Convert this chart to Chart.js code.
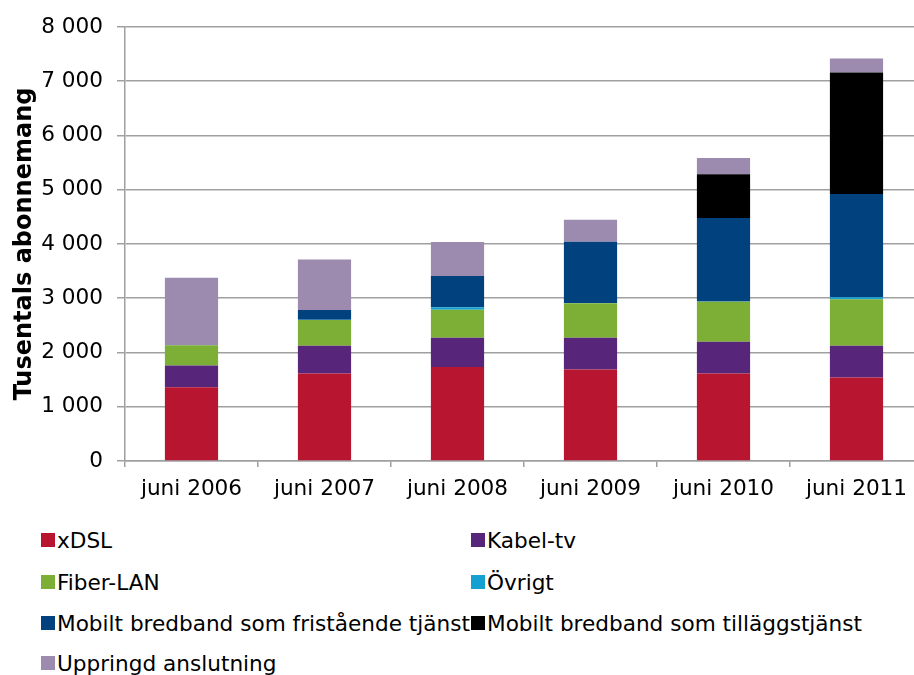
<!DOCTYPE html>
<html>
<head>
<meta charset="utf-8">
<script src="https://cdn.jsdelivr.net/npm/chart.js@4"></script>
<style>
  html, body { margin: 0; padding: 0; background: #fff; overflow: hidden; }
  #wrap { position: relative; width: 930px; height: 675px; }
  #legend .item { position: absolute; display: flex; align-items: center; height: 26px;
    font: 21.6px "DejaVu Sans", sans-serif; color: #000; white-space: nowrap; }
  #legend .box { width: 14px; height: 14px; margin-right: 2px; }
</style>
</head>
<body>
<div id="wrap">
  <canvas id="chart" width="930" height="510"></canvas>
  <div id="legend"></div>
</div>
<script>
const categories = ['juni 2006', 'juni 2007', 'juni 2008', 'juni 2009', 'juni 2010', 'juni 2011'];

const xdsl      = [1361, 1614, 1731, 1688, 1614, 1540];
const kabelTv   = [400, 510, 541, 584, 584, 584];
const fiberLan  = [373, 476, 518, 635, 739, 857];
const ovrigt    = [5, 5, 45, 5, 5, 37];
const mobilFri  = [0, 179, 577, 1128, 1535, 1902];
const mobilTill = [0, 0, 0, 0, 806, 2241];
const uppringd  = [1240, 929, 623, 406, 302, 259];

const seriesNames = ['xDSL', 'Kabel-tv', 'Fiber-LAN', 'Övrigt',
  'Mobilt bredband som fristående tjänst', 'Mobilt bredband som tilläggstjänst', 'Uppringd anslutning'];
const seriesData = [xdsl, kabelTv, fiberLan, ovrigt, mobilFri, mobilTill, uppringd];
const seriesColors = ['#b81531', '#57267a', '#7daf37', '#14a1d2', '#00417e', '#000000', '#9c8aaf'];

const yTicks = [0, 1000, 2000, 3000, 4000, 5000, 6000, 7000, 8000];

const gridColor = '#a0a0a0';
const font = '"DejaVu Sans", sans-serif';

const ctx = document.getElementById('chart').getContext('2d');
new Chart(ctx, {
  type: 'bar',
  data: {
    labels: categories,
    datasets: seriesNames.map((name, i) => ({
      label: name,
      data: seriesData[i],
      backgroundColor: seriesColors[i],
      borderWidth: 0,
      categoryPercentage: 1,
      barPercentage: 0.4
    }))
  },
  options: {
    responsive: false,
    animation: false,
    devicePixelRatio: 1,
    events: [],
    layout: { padding: { left: 0, right: 7, top: 26, bottom: 0 } },
    plugins: { legend: { display: false }, tooltip: { enabled: false } },
    scales: {
      x: {
        stacked: true,
        grid: { display: true, drawOnChartArea: false, drawTicks: true, tickLength: 6, color: gridColor, lineWidth: 1.5, offset: true },
        border: { display: true, color: gridColor, width: 1.5 },
        ticks: { color: '#000', font: { family: font, size: 21.6 }, padding: 9, maxRotation: 0 },
        afterFit: s => { s.height = 49; }
      },
      y: {
        stacked: true,
        min: 0,
        max: 8000,
        afterBuildTicks: s => { s.ticks = yTicks.map(v => ({ value: v })); },
        grid: { color: gridColor, lineWidth: 1.5, tickLength: 8 },
        border: { display: true, color: gridColor, width: 1.5 },
        ticks: {
          color: '#000',
          font: { family: font, size: 21.6 },
          padding: 14,
          callback: v => String(v).replace(/\B(?=(\d{3})+(?!\d))/g, ' ')
        },
        title: {
          display: true,
          text: 'Tusentals abonnemang',
          color: '#000',
          font: { family: font, size: 24, weight: 'bold' },
          padding: { top: 10, bottom: 0 }
        },
        afterFit: s => { s.width = 125; }
      }
    }
  }
});

// legend in two columns, same order as the datasets
const legendCols = [41, 471];
const legendRows = [540, 582, 623, 663];
const legend = document.getElementById('legend');
seriesNames.forEach((name, i) => {
  const item = document.createElement('div');
  item.className = 'item';
  item.style.left = legendCols[i % 2] + 'px';
  item.style.top = (legendRows[Math.floor(i / 2)] - 13) + 'px';
  const box = document.createElement('span');
  box.className = 'box';
  box.style.background = seriesColors[i];
  item.appendChild(box);
  item.appendChild(document.createTextNode(name));
  legend.appendChild(item);
});
</script>
</body>
</html>
